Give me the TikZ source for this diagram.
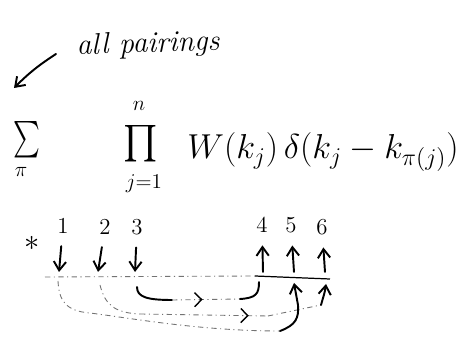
\documentclass[tikz,border=0pt]{standalone}
\usepackage{amsmath}
\usepackage{tikz}
\usetikzlibrary{arrows.meta,decorations.markings}

\tikzset{
  pen/.style={line width=1.1pt, line cap=round},
  faint/.style={black!55, line width=0.5pt, dash pattern=on 3pt off 2pt on 0.6pt off 2pt},
  midarrow/.style={postaction={decorate}, decoration={markings,
      mark=at position #1 with {\arrow[black, line width=0.8pt]{Straight Barb[length=4pt,width=8pt]}}}},
  num/.style={font=\fontsize{13}{15}\selectfont, inner sep=1pt},
  fml/.style={font=\huge, inner sep=0pt},
}

\begin{document}
\begin{tikzpicture}[x=0.02cm, y=-0.02cm, >={Straight Barb[length=5pt,width=7pt]}]
        \useasboundingbox (0,0) rectangle (468,348);

        % --- Label and arrow to the sum ---
        \node[font=\fontsize{17}{20}\selectfont\itshape, rotate=2] (allpair) at (148,45) {all pairings};
        \coordinate (tail) at (56,54);
        \coordinate (tip) at (14,88);
        \draw[pen, ->] (tail) to[bend right=6] (tip);

        % --- Sum over pairings ---
        \node[fml, xscale=0.7] (sumsym) at (27,140) {$\sum$};
        \node[num] (sumidx) at (21,172) {$\pi$};

        % --- Product with its limits ---
        \node[fml] (prodsym) at (141,144) {$\prod$};
        \node[num] (prodtop) at (139,106) {$n$};
        \node[num] (prodbot) at (144,184) {$j{=}1$};

        % --- Summand ---
        \node[fml, anchor=base west, scale=0.95] (summand) at (187,159) {$W(k_j)\,\delta(k_j - k_{\pi(j)})$};

        % --- Legs 1..6 ---
        \node[fml, font=\LARGE] (star) at (32,243) {$\ast$};
        \foreach \i/\x/\y in {1/63/226, 2/105/227, 3/137/227, 4/262/225, 5/291/225, 6/322/227}
            \node[num] (n\i) at (\x,\y) {\i};

        % arrows into the vertex (1,2,3) and out of it (4,5,6)
        \foreach \i/\x in {1/59, 2/98, 3/135} {
            \coordinate (d\i) at (\x,272);
            \draw[pen, ->, shorten <=6pt] (n\i) -- (d\i);
        }
        \foreach \i/\x in {4/263, 5/294, 6/325} {
            \coordinate (u\i) at (\x,272);
            \draw[pen, ->, shorten >=6pt] (u\i) -- (n\i);
        }

        % --- Base line ---
        \coordinate (baseL) at (45,277);
        \coordinate (baseM) at (255,276);
        \coordinate (baseR) at (330,279);
        \draw[faint] (baseL) -- (baseM);
        \draw[line width=0.7pt] (baseM) -- (baseR);

        % --- Pairing 3 -> 4 ---
        \coordinate (s3) at (137,287);
        \coordinate (e4) at (259,282);
        \draw[pen] (s3) .. controls (137,297) and (147,300) .. (172,300);
        \draw[faint, midarrow=0.45] (172,300) -- (240,299);
        \draw[pen] (240,299) .. controls (256,298) and (259,294) .. (e4);

        % --- Pairing 2 -> 6 ---
        \coordinate (s2) at (100,285);
        \coordinate (e6) at (326,284);
        \draw[faint] (s2) .. controls (105,305) and (115,313) .. (140,314);
        \draw[faint, midarrow=0.85] (140,314) -- (268,316);
        \draw[faint] (268,316) -- (321,305);
        \draw[pen, ->] (321,305) .. controls (323,298) and (325,292) .. (e6);

        % --- Pairing 1 -> 5 ---
        \coordinate (s1) at (58,281);
        \coordinate (e5) at (294,283);
        \draw[faint] (s1) .. controls (59,300) and (65,311) .. (90,313)
            .. controls (130,318) and (200,331) .. (280,331);
        \draw[pen, ->] (280,331) .. controls (296,325) and (299,318) .. (298,305) -- (e5);
    \end{tikzpicture}
\end{document}
